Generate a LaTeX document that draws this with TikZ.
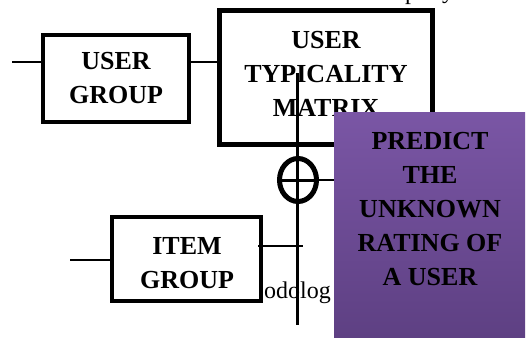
\documentclass[tikz,border=0pt]{standalone}
\usepackage{fontspec}
\setmainfont{Liberation Serif}
\usetikzlibrary{shapes.geometric}
\definecolor{purpTop}{RGB}{122,86,165}
\definecolor{purpBot}{RGB}{94,64,131}
\tikzset{
  blockbox/.style={draw=black, fill=white, line width=4.5pt, inner sep=0pt, align=center,
    font=\bfseries\fontsize{26}{34}\selectfont},
  boxtext/.style={align=center, inner sep=0pt, font=\bfseries\fontsize{26}{34}\selectfont},
  wire/.style={draw=black, line width=2pt},
  spine/.style={draw=black, line width=3pt},
  predbox/.style={top color=purpTop, bottom color=purpBot, draw=none, inner sep=0pt},
  plaintext/.style={font=\fontsize{24}{28}\selectfont, inner sep=0pt}
}
\begin{document}
\begin{tikzpicture}[x=1pt,y=-1pt]
\useasboundingbox (0,0) rectangle (526,337);
% top fragments of clipped text
\node[plaintext, anchor=base] (frag1) at (411,0) {p};
\node[plaintext, anchor=base] (frag2) at (448,-1) {y};
% boxes
\node[blockbox, minimum width=146pt, minimum height=87pt] (ug) at (116,78.5) {USER\\GROUP};
\node[blockbox, line width=5pt, minimum width=213pt, minimum height=134pt] (utm) at (326,77.5) {};
\node[boxtext] (utmtext) at (326,74) {USER\\TYPICALITY\\MATRIX};
\node[blockbox, minimum width=149pt, minimum height=84pt] (ig) at (186.5,259) {};
\node[boxtext] (igtext) at (187,263.5) {ITEM\\GROUP};
\node[plaintext, anchor=base west] (odo) at (264,298) {odolog};
% connectors
\coordinate (ugin) at (12,62);
\draw[wire] (ugin) -- (ugin -| ug.west);
\draw[wire] (ugin -| ug.east) -- (ugin -| utm.west);
\coordinate (igin) at (70,260);
\draw[wire] (igin) -- (igin -| ig.west);
\coordinate (iend) at (303,246);
\draw[wire] (iend -| ig.east) ++(-5,0) -- (iend);
% summing junction
\node[draw=black, line width=5pt, ellipse, minimum width=37pt, minimum height=43pt, inner sep=0pt] (sum) at (298,180) {};
\coordinate (vtop) at (297,73);
\coordinate (vbot) at (297,325);
\draw[spine] (vtop) -- (vbot);
\draw[line width=3pt] (sum.west) -- (sum.east);
% prediction box
\node[predbox, minimum width=191pt, minimum height=225pt] (pred) at (429.5,224.5) {};
\draw[wire] (sum.east) -- (sum.east -| pred.west);
\node[boxtext] (predtext) at (430,209) {PREDICT\\THE\\UNKNOWN\\RATING OF\\A USER};
\end{tikzpicture}
\end{document}
